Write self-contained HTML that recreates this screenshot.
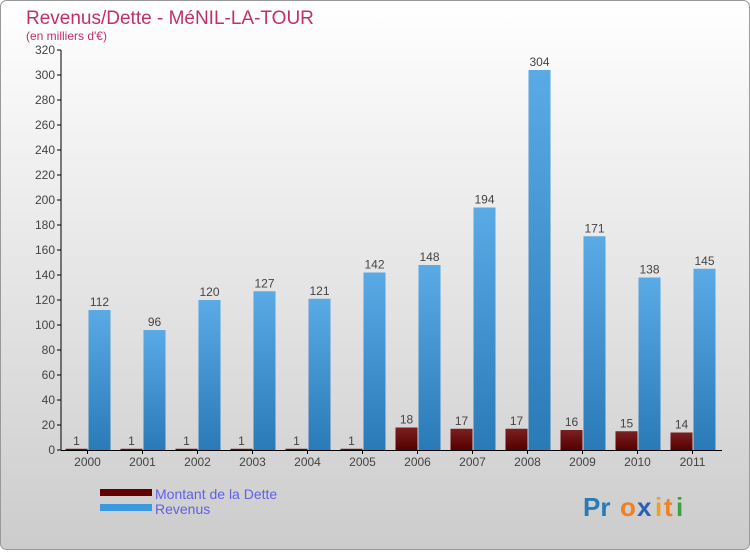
<!DOCTYPE html>
<html><head><meta charset="utf-8"><style>
body{margin:0;width:750px;height:550px;overflow:hidden;font-family:"Liberation Sans",sans-serif}
</style></head><body>
<svg width="750" height="550" xmlns="http://www.w3.org/2000/svg">
<defs>
<linearGradient id="bg" x1="0" y1="0" x2="0" y2="1"><stop offset="0" stop-color="#ffffff"/><stop offset="1" stop-color="#cccccc"/></linearGradient>
<linearGradient id="gb" x1="0" y1="0" x2="0" y2="1"><stop offset="0" stop-color="#5aaae6"/><stop offset="1" stop-color="#2a7ab8"/></linearGradient>
<linearGradient id="gr" x1="0" y1="0" x2="0" y2="1"><stop offset="0" stop-color="#7a2020"/><stop offset="1" stop-color="#550000"/></linearGradient>
</defs>
<rect x="0.5" y="0.5" width="749" height="549" rx="6" fill="url(#bg)" stroke="#999"/>
<text x="26" y="24" font-size="19" fill="#c0306a">Revenus/Dette - MéNIL-LA-TOUR</text>
<text x="26" y="40" font-size="12" fill="#c0306a">(en milliers d'€)</text>
<g id="axes"></g>
<g id="bars"></g>
<rect x="100" y="489" width="52" height="7" fill="#600000"/>
<rect x="100" y="504" width="52" height="7" fill="#3a9ae0"/>
<text x="155" y="499" font-size="14" fill="#6060e8">Montant de la Dette</text>
<text x="155" y="514" font-size="14" fill="#6060e8">Revenus</text>
<g font-size="26" font-weight="bold"><text x="583" y="516" fill="#2a7ab8">Pr</text><text x="620" y="516" fill="#f08020">o</text><text x="637" y="516" fill="#2a60b8">x</text><text x="655" y="516" fill="#f0a020">i</text><text x="664" y="516" fill="#f08020">t</text><text x="676" y="516" fill="#40a040">i</text></g>
</svg>
<script>
const categories=["2000","2001","2002","2003","2004","2005","2006","2007","2008","2009","2010","2011"];
const debt=[1,1,1,1,1,1,18,17,17,16,15,14];
const revenue=[112,96,120,127,121,142,148,194,304,171,138,145];
const yTicks=[0,20,40,60,80,100,120,140,160,180,200,220,240,260,280,300,320];
const NS="http://www.w3.org/2000/svg";
const x0=60,band=55,yBase=450,yTop=50,yMax=320;
const y=v=>yBase-(v/yMax)*(yBase-yTop);
const xc=i=>x0+band*(i+0.5);
function mk(t,a,p){const e=document.createElementNS(NS,t);for(const k in a)e.setAttribute(k,a[k]);p.appendChild(e);return e;}
const ax=document.getElementById('axes'),bg=document.getElementById('bars');
yTicks.forEach(v=>{
const tk=mk('line',{x1:57,x2:61,y1:y(v),y2:y(v),stroke:'#000'},ax);


const t=mk('text',{x:55,y:y(v)+4,'font-size':12,fill:'#444','text-anchor':'end'},ax);t.textContent=v;


});
categories.forEach((c,i)=>{
const cx=xc(i);
const d=mk('rect',{x:cx-22,y:y(debt[i]),width:22,height:yBase-y(debt[i]),fill:'url(#gr)'},bg);


const r=mk('rect',{x:cx+1,y:y(revenue[i]),width:22,height:yBase-y(revenue[i]),fill:'url(#gb)'},bg);


const dl=mk('text',{x:cx-11,y:y(debt[i])-4,'font-size':12,fill:'#444','text-anchor':'middle'},bg);dl.textContent=debt[i];


const rl=mk('text',{x:cx+12,y:y(revenue[i])-4,'font-size':12,fill:'#444','text-anchor':'middle'},bg);rl.textContent=revenue[i];


const tk=mk('line',{x1:cx,x2:cx,y1:450,y2:454,stroke:'#000'},ax);


const xl=mk('text',{x:cx,y:466,'font-size':12,fill:'#444','text-anchor':'middle'},ax);xl.textContent=c;


});
const ya=mk('line',{x1:61,x2:61,y1:50,y2:450,stroke:'#000'},ax);


const xa=mk('line',{x1:61,x2:722,y1:450.5,y2:450.5,stroke:'#000'},ax);


</script>
</body></html>
